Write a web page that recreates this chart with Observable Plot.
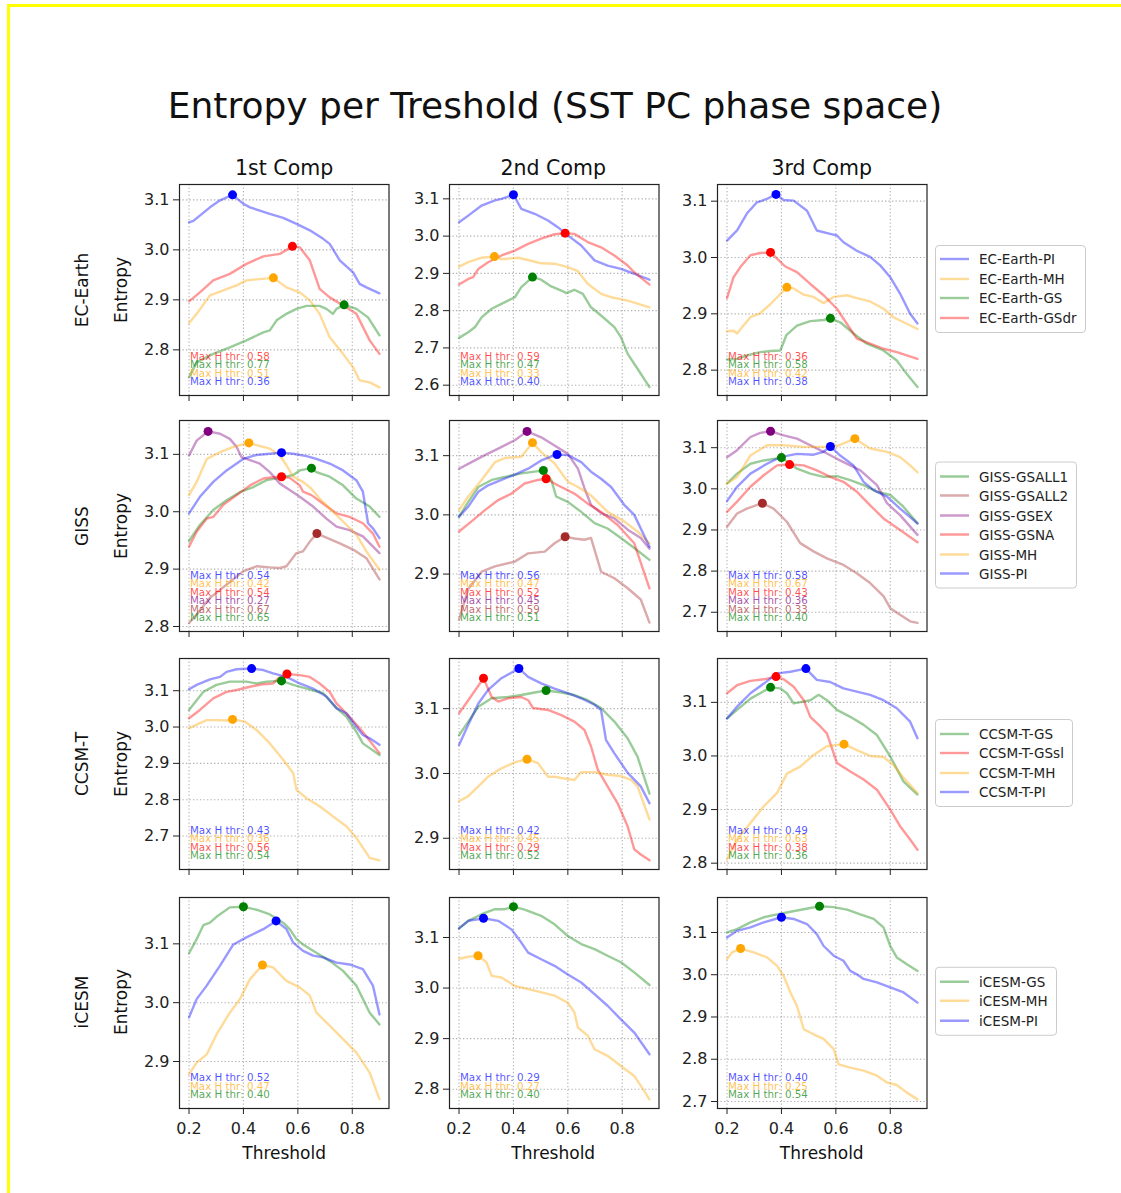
<!DOCTYPE html>
<html><head><meta charset="utf-8">
<script src="https://cdn.jsdelivr.net/npm/d3@7"></script>
<script src="https://cdn.jsdelivr.net/npm/@observablehq/plot@0.6"></script>
<style>
body{margin:0;background:#fff;}
#fig{position:relative;width:1121px;height:1193px;background:#fff;font-family:"DejaVu Sans",sans-serif;color:#111;overflow:hidden}
.abs{position:absolute;white-space:nowrap;line-height:1}
.legend{position:absolute;left:935px;transform:translateY(-50%);border:1px solid #cccccc;border-radius:4px;background:rgba(255,255,255,0.8);padding:4px 8px 4px 4px}
.legend .row{display:flex;align-items:center;height:19.5px;font-size:13.5px;color:#222}
.legend svg{margin-right:10px;display:block}
</style></head>
<body><div id="fig"></div>
<script>
// ---------- labels ----------
const TITLE = "Entropy per Treshold (SST PC phase space)";
const COLUMN_TITLES = ["1st Comp", "2nd Comp", "3rd Comp"];
const MODELS = ["EC-Earth", "GISS", "CCSM-T", "iCESM"];
const X_TICKS = [0.2, 0.4, 0.6, 0.8];
const X_DOMAIN = [0.165, 0.935];

const EC_NAMES = ["EC-Earth-PI", "EC-Earth-MH", "EC-Earth-GS", "EC-Earth-GSdr"];
const EC_COLORS = ["blue", "orange", "green", "red"];
const GISS_NAMES = ["GISS-GSALL1", "GISS-GSALL2", "GISS-GSEX", "GISS-GSNA", "GISS-MH", "GISS-PI"];
const GISS_COLORS = ["green", "brown", "purple", "red", "orange", "blue"];
const CCSM_NAMES = ["CCSM-T-GS", "CCSM-T-GSsl", "CCSM-T-MH", "CCSM-T-PI"];
const CCSM_COLORS = ["green", "red", "orange", "blue"];
const ICESM_NAMES = ["iCESM-GS", "iCESM-MH", "iCESM-PI"];
const ICESM_COLORS = ["green", "orange", "blue"];

// thresholds of maximum entropy (per component, per experiment in legend order)
const EC_THR = [[0.36, 0.51, 0.77, 0.58], [0.40, 0.33, 0.47, 0.59], [0.38, 0.42, 0.58, 0.36]];
const GISS_THR = [[0.65, 0.67, 0.27, 0.54, 0.42, 0.54], [0.51, 0.59, 0.45, 0.52, 0.47, 0.56], [0.40, 0.33, 0.36, 0.43, 0.67, 0.58]];
const CCSM_THR = [[0.54, 0.56, 0.36, 0.43], [0.52, 0.29, 0.45, 0.42], [0.36, 0.38, 0.63, 0.49]];
const ICESM_THR = [[0.40, 0.47, 0.52], [0.40, 0.27, 0.29], [0.54, 0.25, 0.40]];

// y-axis extents per row / component
const EC_YDOM = [[2.7087, 3.1307], [2.5723, 3.1385], [2.755, 3.1296]];
const GISS_YDOM = [[2.7913, 3.159], [2.803, 3.1594], [2.6532, 3.1661]];
const CCSM_YDOM = [[2.6078, 3.1887], [2.8518, 3.1774], [2.7882, 3.1818]];
const ICESM_YDOM = [[2.8201, 3.1788], [2.7618, 3.1791], [2.6834, 3.1828]];

// ---------- EC-Earth ----------
const EC1_PI = [[0.20,3.055],[0.216,3.058],[0.277,3.085],[0.314,3.099],[0.36,3.110],[0.40,3.092],[0.424,3.085],[0.497,3.072],[0.546,3.064],[0.595,3.052],[0.644,3.039],[0.693,3.022],[0.717,3.012],[0.754,2.979],[0.803,2.955],[0.827,2.932],[0.852,2.925],[0.90,2.913]];
const EC1_MH = [[0.20,2.853],[0.228,2.872],[0.277,2.909],[0.326,2.919],[0.375,2.929],[0.411,2.939],[0.448,2.941],[0.51,2.944],[0.558,2.925],[0.607,2.915],[0.644,2.899],[0.68,2.872],[0.717,2.825],[0.766,2.792],[0.803,2.765],[0.827,2.739],[0.864,2.735],[0.90,2.725]];
const EC1_GS = [[0.20,2.745],[0.228,2.775],[0.289,2.792],[0.35,2.805],[0.411,2.819],[0.473,2.835],[0.497,2.839],[0.522,2.859],[0.558,2.872],[0.595,2.882],[0.632,2.888],[0.68,2.888],[0.705,2.882],[0.729,2.872],[0.742,2.882],[0.77,2.890],[0.815,2.882],[0.858,2.865],[0.90,2.829]];
const EC1_GSdr = [[0.20,2.897],[0.24,2.915],[0.289,2.939],[0.35,2.952],[0.411,2.972],[0.473,2.987],[0.534,2.992],[0.58,3.007],[0.607,3.005],[0.644,2.979],[0.68,2.922],[0.717,2.905],[0.766,2.889],[0.815,2.872],[0.864,2.819],[0.90,2.792]];

const EC2_PI = [[0.20,3.037],[0.234,3.055],[0.283,3.082],[0.332,3.096],[0.356,3.100],[0.40,3.111],[0.429,3.073],[0.478,3.060],[0.527,3.042],[0.563,3.024],[0.60,3.002],[0.649,2.975],[0.698,2.935],[0.746,2.921],[0.795,2.912],[0.844,2.899],[0.90,2.883]];
const EC2_MH = [[0.20,2.918],[0.234,2.930],[0.283,2.942],[0.33,2.945],[0.356,2.938],[0.417,2.942],[0.454,2.936],[0.502,2.927],[0.551,2.926],[0.60,2.917],[0.637,2.906],[0.673,2.872],[0.722,2.845],[0.759,2.836],[0.82,2.827],[0.90,2.809]];
const EC2_GS = [[0.20,2.727],[0.234,2.742],[0.259,2.756],[0.283,2.782],[0.32,2.805],[0.356,2.818],[0.405,2.836],[0.429,2.863],[0.47,2.890],[0.502,2.883],[0.539,2.865],[0.576,2.854],[0.594,2.847],[0.624,2.856],[0.655,2.845],[0.685,2.809],[0.722,2.787],[0.771,2.756],[0.795,2.729],[0.82,2.684],[0.856,2.644],[0.90,2.595]];
const EC2_GSdr = [[0.20,2.870],[0.234,2.885],[0.252,2.890],[0.271,2.912],[0.307,2.930],[0.356,2.948],[0.405,2.961],[0.454,2.979],[0.502,2.993],[0.551,3.005],[0.59,3.008],[0.624,3.006],[0.673,2.984],[0.722,2.970],[0.771,2.948],[0.82,2.921],[0.844,2.903],[0.90,2.870]];

const EC3_PI = [[0.20,3.030],[0.237,3.048],[0.273,3.078],[0.31,3.098],[0.347,3.104],[0.38,3.112],[0.408,3.102],[0.445,3.101],[0.494,3.083],[0.53,3.048],[0.579,3.042],[0.604,3.039],[0.628,3.027],[0.677,3.012],[0.726,3.001],[0.763,2.986],[0.80,2.965],[0.836,2.936],[0.873,2.900],[0.90,2.883]];
const EC3_MH = [[0.20,2.869],[0.224,2.870],[0.237,2.865],[0.255,2.876],[0.286,2.894],[0.322,2.901],[0.359,2.917],[0.42,2.947],[0.445,2.945],[0.482,2.934],[0.518,2.930],[0.555,2.919],[0.592,2.930],[0.641,2.933],[0.677,2.928],[0.726,2.922],[0.775,2.909],[0.812,2.894],[0.849,2.885],[0.90,2.873]];
const EC3_GS = [[0.20,2.819],[0.237,2.820],[0.273,2.826],[0.322,2.832],[0.359,2.834],[0.396,2.835],[0.418,2.862],[0.457,2.879],[0.506,2.887],[0.555,2.889],[0.58,2.892],[0.616,2.885],[0.665,2.865],[0.714,2.847],[0.775,2.835],[0.824,2.817],[0.861,2.793],[0.90,2.770]];
const EC3_GSdr = [[0.20,2.928],[0.224,2.965],[0.249,2.983],[0.286,3.004],[0.322,3.008],[0.36,3.009],[0.384,2.998],[0.414,2.984],[0.457,2.974],[0.506,2.953],[0.555,2.933],[0.604,2.909],[0.641,2.882],[0.677,2.856],[0.726,2.847],[0.775,2.838],[0.824,2.832],[0.90,2.820]];

// ---------- GISS ----------
const GISS1_GSALL1 = [[0.20,2.949],[0.24,2.977],[0.289,3.003],[0.338,3.020],[0.387,3.034],[0.436,3.043],[0.485,3.055],[0.534,3.059],[0.583,3.064],[0.607,3.072],[0.65,3.076],[0.668,3.069],[0.717,3.061],[0.766,3.046],[0.815,3.023],[0.864,3.009],[0.90,2.991]];
const GISS1_GSALL2 = [[0.20,2.806],[0.228,2.821],[0.277,2.850],[0.338,2.873],[0.399,2.896],[0.448,2.905],[0.497,2.903],[0.534,2.902],[0.558,2.905],[0.595,2.928],[0.619,2.931],[0.644,2.948],[0.67,2.962],[0.705,2.955],[0.754,2.945],[0.803,2.934],[0.852,2.919],[0.90,2.882]];
const GISS1_GSEX = [[0.20,3.098],[0.228,3.124],[0.27,3.140],[0.314,3.136],[0.35,3.127],[0.375,3.113],[0.393,3.095],[0.424,3.090],[0.46,3.084],[0.497,3.069],[0.534,3.049],[0.57,3.038],[0.607,3.026],[0.656,3.009],[0.705,2.988],[0.742,2.974],[0.79,2.968],[0.839,2.957],[0.90,2.928]];
const GISS1_GSNA = [[0.20,2.939],[0.228,2.965],[0.265,2.988],[0.289,2.991],[0.326,3.012],[0.375,3.029],[0.424,3.046],[0.473,3.058],[0.509,3.060],[0.54,3.061],[0.57,3.059],[0.607,3.046],[0.619,3.035],[0.65,3.029],[0.693,3.014],[0.742,2.997],[0.79,2.991],[0.839,2.980],[0.876,2.962],[0.90,2.939]];
const GISS1_MH = [[0.20,3.029],[0.228,3.052],[0.265,3.092],[0.314,3.104],[0.363,3.113],[0.42,3.120],[0.448,3.116],[0.497,3.110],[0.534,3.098],[0.558,3.081],[0.583,3.061],[0.619,3.052],[0.65,3.040],[0.68,3.023],[0.717,3.006],[0.766,2.983],[0.815,2.960],[0.852,2.931],[0.90,2.899]];
const GISS1_PI = [[0.20,2.997],[0.24,3.026],[0.289,3.052],[0.338,3.072],[0.399,3.092],[0.448,3.099],[0.497,3.101],[0.54,3.103],[0.583,3.101],[0.632,3.097],[0.668,3.092],[0.717,3.084],[0.766,3.072],[0.815,3.055],[0.839,3.035],[0.858,2.980],[0.876,2.971],[0.90,2.954]];

const GISS2_GSALL1 = [[0.20,2.997],[0.234,3.022],[0.271,3.047],[0.32,3.059],[0.368,3.064],[0.429,3.070],[0.478,3.073],[0.51,3.075],[0.539,3.059],[0.557,3.031],[0.60,3.022],[0.649,3.005],[0.698,2.986],[0.746,2.977],[0.795,2.961],[0.844,2.944],[0.90,2.924]];
const GISS2_GSALL2 = [[0.20,2.823],[0.234,2.875],[0.283,2.904],[0.332,2.913],[0.405,2.921],[0.454,2.935],[0.515,2.938],[0.551,2.952],[0.59,2.963],[0.624,2.960],[0.661,2.958],[0.685,2.961],[0.722,2.904],[0.771,2.893],[0.82,2.876],[0.868,2.857],[0.90,2.818]];
const GISS2_GSEX = [[0.20,3.078],[0.246,3.089],[0.295,3.101],[0.344,3.112],[0.405,3.126],[0.45,3.141],[0.502,3.131],[0.551,3.117],[0.60,3.103],[0.637,3.078],[0.661,3.045],[0.685,3.017],[0.722,3.003],[0.771,2.994],[0.82,2.975],[0.868,2.961],[0.90,2.943]];
const GISS2_GSNA = [[0.20,2.972],[0.246,2.989],[0.295,3.008],[0.344,3.025],[0.393,3.036],[0.441,3.053],[0.49,3.059],[0.52,3.061],[0.563,3.050],[0.624,3.036],[0.673,3.019],[0.722,3.005],[0.783,2.983],[0.844,2.952],[0.90,2.876]];
const GISS2_MH = [[0.20,3.008],[0.234,3.031],[0.283,3.059],[0.332,3.089],[0.368,3.096],[0.429,3.098],[0.47,3.122],[0.502,3.106],[0.551,3.087],[0.60,3.056],[0.637,3.047],[0.685,3.033],[0.746,3.005],[0.807,2.989],[0.856,2.972],[0.90,2.952]];
const GISS2_PI = [[0.20,2.997],[0.234,3.014],[0.271,3.039],[0.307,3.050],[0.356,3.059],[0.405,3.068],[0.454,3.078],[0.502,3.092],[0.56,3.102],[0.60,3.101],[0.649,3.089],[0.685,3.073],[0.722,3.061],[0.759,3.047],[0.807,3.017],[0.844,3.000],[0.90,2.946]];

const GISS3_GSALL1 = [[0.20,3.013],[0.237,3.037],[0.286,3.061],[0.335,3.069],[0.40,3.076],[0.457,3.049],[0.506,3.037],[0.555,3.029],[0.604,3.031],[0.653,3.021],[0.702,3.009],[0.751,2.993],[0.80,2.985],[0.849,2.956],[0.90,2.916]];
const GISS3_GSALL2 = [[0.20,2.908],[0.237,2.940],[0.273,2.952],[0.33,2.965],[0.371,2.952],[0.42,2.920],[0.469,2.868],[0.518,2.848],[0.567,2.831],[0.628,2.815],[0.677,2.795],[0.726,2.771],[0.775,2.739],[0.80,2.710],[0.836,2.694],[0.873,2.678],[0.90,2.674]];
const GISS3_GSEX = [[0.20,3.077],[0.237,3.094],[0.286,3.126],[0.322,3.136],[0.36,3.140],[0.408,3.130],[0.457,3.122],[0.506,3.106],[0.555,3.090],[0.604,3.073],[0.653,3.057],[0.69,3.045],[0.751,3.009],[0.788,2.965],[0.836,2.936],[0.90,2.888]];
const GISS3_GSNA = [[0.20,2.944],[0.237,2.969],[0.286,3.005],[0.335,3.033],[0.384,3.057],[0.43,3.059],[0.482,3.057],[0.53,3.045],[0.579,3.029],[0.628,3.017],[0.677,2.993],[0.726,2.960],[0.775,2.928],[0.836,2.900],[0.90,2.870]];
const GISS3_MH = [[0.20,3.013],[0.237,3.029],[0.286,3.081],[0.347,3.106],[0.408,3.106],[0.482,3.102],[0.555,3.102],[0.604,3.104],[0.67,3.122],[0.726,3.098],[0.788,3.090],[0.836,3.077],[0.873,3.057],[0.90,3.040]];
const GISS3_PI = [[0.20,2.970],[0.237,3.005],[0.286,3.037],[0.347,3.061],[0.396,3.077],[0.457,3.085],[0.518,3.083],[0.555,3.090],[0.58,3.103],[0.616,3.081],[0.665,3.057],[0.702,3.017],[0.739,2.997],[0.788,2.981],[0.836,2.952],[0.90,2.916]];

// ---------- CCSM-T ----------
const CCSM1_GS = [[0.20,3.047],[0.228,3.074],[0.253,3.097],[0.301,3.116],[0.35,3.125],[0.411,3.125],[0.448,3.120],[0.485,3.125],[0.54,3.127],[0.583,3.116],[0.632,3.106],[0.693,3.093],[0.742,3.052],[0.778,3.029],[0.815,2.987],[0.839,2.955],[0.90,2.923]];
const CCSM1_GSsl = [[0.20,3.024],[0.24,3.047],[0.289,3.079],[0.338,3.097],[0.375,3.102],[0.424,3.111],[0.473,3.118],[0.509,3.120],[0.528,3.134],[0.56,3.146],[0.607,3.143],[0.644,3.138],[0.68,3.120],[0.717,3.097],[0.742,3.065],[0.778,3.038],[0.827,2.997],[0.852,2.974],[0.90,2.928]];
const CCSM1_MH = [[0.20,2.997],[0.265,3.019],[0.301,3.019],[0.338,3.018],[0.36,3.021],[0.405,3.015],[0.448,2.992],[0.497,2.955],[0.546,2.910],[0.583,2.873],[0.595,2.827],[0.632,2.804],[0.68,2.782],[0.729,2.754],[0.778,2.727],[0.815,2.695],[0.864,2.640],[0.90,2.633]];
const CCSM1_PI = [[0.20,3.104],[0.228,3.116],[0.277,3.131],[0.314,3.138],[0.338,3.152],[0.375,3.159],[0.43,3.161],[0.473,3.157],[0.509,3.148],[0.558,3.138],[0.607,3.120],[0.656,3.106],[0.705,3.084],[0.742,3.052],[0.778,3.038],[0.815,3.001],[0.839,2.978],[0.864,2.969],[0.90,2.951]];

const CCSM2_GS = [[0.20,3.059],[0.234,3.080],[0.271,3.103],[0.32,3.116],[0.38,3.118],[0.429,3.121],[0.478,3.125],[0.52,3.128],[0.576,3.125],[0.624,3.121],[0.673,3.113],[0.722,3.101],[0.771,3.080],[0.82,3.054],[0.856,3.026],[0.90,2.969]];
const CCSM2_GSsl = [[0.20,3.093],[0.234,3.113],[0.29,3.147],[0.32,3.118],[0.344,3.111],[0.38,3.116],[0.429,3.118],[0.454,3.113],[0.472,3.101],[0.527,3.098],[0.576,3.090],[0.624,3.080],[0.661,3.067],[0.685,3.042],[0.71,3.006],[0.746,2.980],[0.783,2.954],[0.82,2.918],[0.844,2.883],[0.868,2.875],[0.90,2.866]];
const CCSM2_MH = [[0.20,2.957],[0.234,2.965],[0.271,2.980],[0.307,2.995],[0.356,3.008],[0.405,3.017],[0.45,3.022],[0.49,3.016],[0.527,2.995],[0.551,2.995],[0.576,2.993],[0.624,2.990],[0.649,3.002],[0.698,3.002],[0.746,2.998],[0.795,2.996],[0.832,2.990],[0.856,2.980],[0.90,2.929]];
const CCSM2_PI = [[0.20,3.044],[0.234,3.075],[0.271,3.108],[0.307,3.129],[0.356,3.147],[0.42,3.162],[0.454,3.149],[0.502,3.139],[0.551,3.131],[0.60,3.124],[0.649,3.116],[0.698,3.106],[0.722,3.098],[0.74,3.052],[0.771,3.031],[0.82,3.001],[0.868,2.980],[0.90,2.954]];

const CCSM3_GS = [[0.20,3.070],[0.237,3.086],[0.286,3.107],[0.36,3.128],[0.396,3.126],[0.42,3.117],[0.445,3.098],[0.475,3.101],[0.506,3.104],[0.537,3.114],[0.567,3.104],[0.604,3.086],[0.653,3.073],[0.702,3.058],[0.751,3.039],[0.80,2.999],[0.849,2.952],[0.90,2.928]];
const CCSM3_GSsl = [[0.20,3.117],[0.237,3.132],[0.286,3.140],[0.335,3.143],[0.38,3.148],[0.408,3.143],[0.445,3.129],[0.482,3.104],[0.506,3.073],[0.543,3.055],[0.567,3.042],[0.604,2.987],[0.653,2.971],[0.702,2.956],[0.751,2.937],[0.80,2.900],[0.836,2.869],[0.873,2.844],[0.90,2.825]];
const CCSM3_MH = [[0.20,2.807],[0.237,2.844],[0.286,2.875],[0.335,2.906],[0.384,2.931],[0.42,2.967],[0.469,2.980],[0.518,3.002],[0.567,3.018],[0.63,3.022],[0.677,3.011],[0.726,3.000],[0.775,2.998],[0.812,2.983],[0.849,2.959],[0.90,2.931]];
const CCSM3_PI = [[0.20,3.070],[0.237,3.092],[0.286,3.117],[0.335,3.135],[0.384,3.154],[0.433,3.157],[0.49,3.163],[0.53,3.142],[0.579,3.138],[0.628,3.126],[0.677,3.120],[0.726,3.114],[0.775,3.104],[0.824,3.089],[0.873,3.064],[0.90,3.033]];

// ---------- iCESM ----------
const ICESM1_GS = [[0.20,3.084],[0.228,3.108],[0.253,3.132],[0.277,3.136],[0.301,3.146],[0.35,3.162],[0.40,3.163],[0.448,3.158],[0.497,3.150],[0.546,3.136],[0.57,3.125],[0.595,3.108],[0.619,3.099],[0.668,3.085],[0.717,3.071],[0.766,3.054],[0.815,3.029],[0.864,2.983],[0.90,2.963]];
const ICESM1_MH = [[0.20,2.878],[0.228,2.898],[0.265,2.912],[0.301,2.946],[0.35,2.983],[0.387,3.006],[0.424,3.040],[0.47,3.064],[0.509,3.060],[0.558,3.037],[0.607,3.026],[0.644,3.012],[0.668,2.983],[0.717,2.961],[0.766,2.938],[0.815,2.915],[0.864,2.881],[0.90,2.836]];
const ICESM1_PI = [[0.20,2.975],[0.228,3.006],[0.265,3.029],[0.314,3.063],[0.363,3.099],[0.411,3.111],[0.473,3.125],[0.52,3.139],[0.558,3.125],[0.583,3.102],[0.619,3.088],[0.656,3.080],[0.693,3.077],[0.742,3.068],[0.79,3.065],[0.839,3.057],[0.876,3.029],[0.90,2.980]];

const ICESM2_GS = [[0.20,3.118],[0.234,3.133],[0.283,3.146],[0.332,3.156],[0.368,3.156],[0.40,3.161],[0.441,3.155],[0.502,3.143],[0.551,3.126],[0.60,3.103],[0.649,3.087],[0.698,3.077],[0.746,3.064],[0.795,3.051],[0.844,3.031],[0.90,3.006]];
const ICESM2_MH = [[0.20,3.058],[0.234,3.062],[0.27,3.064],[0.301,3.051],[0.32,3.024],[0.356,3.021],[0.405,3.004],[0.478,2.995],[0.551,2.985],[0.60,2.971],[0.624,2.952],[0.637,2.922],[0.673,2.906],[0.698,2.879],[0.746,2.866],[0.795,2.846],[0.844,2.826],[0.868,2.807],[0.90,2.780]];
const ICESM2_PI = [[0.20,3.118],[0.234,3.133],[0.271,3.136],[0.29,3.138],[0.344,3.133],[0.393,3.116],[0.429,3.090],[0.454,3.070],[0.502,3.057],[0.551,3.044],[0.60,3.027],[0.649,3.011],[0.698,2.988],[0.746,2.965],[0.795,2.938],[0.844,2.912],[0.90,2.869]];

const ICESM3_GS = [[0.20,3.100],[0.237,3.108],[0.286,3.124],[0.335,3.136],[0.384,3.143],[0.433,3.149],[0.482,3.155],[0.54,3.162],[0.592,3.160],[0.641,3.154],[0.69,3.143],[0.739,3.132],[0.775,3.112],[0.80,3.068],[0.824,3.041],[0.861,3.025],[0.90,3.009]];
const ICESM3_MH = [[0.20,3.037],[0.218,3.053],[0.25,3.062],[0.298,3.053],[0.347,3.041],[0.384,3.021],[0.408,2.997],[0.433,2.958],[0.457,2.926],[0.482,2.871],[0.518,2.859],[0.555,2.848],[0.592,2.824],[0.61,2.788],[0.653,2.780],[0.702,2.773],[0.751,2.761],[0.788,2.745],[0.824,2.739],[0.861,2.721],[0.90,2.705]];
const ICESM3_PI = [[0.20,3.088],[0.237,3.104],[0.286,3.112],[0.335,3.124],[0.40,3.136],[0.445,3.132],[0.494,3.120],[0.53,3.096],[0.555,3.068],[0.592,3.045],[0.628,3.033],[0.653,3.009],[0.677,3.001],[0.702,2.990],[0.751,2.982],[0.80,2.970],[0.849,2.958],[0.90,2.934]];

// ---------- assemble ----------
const ROWS = [
  {names: EC_NAMES, colors: EC_COLORS, thr: EC_THR, ydom: EC_YDOM,
   series: [[EC1_PI, EC1_MH, EC1_GS, EC1_GSdr], [EC2_PI, EC2_MH, EC2_GS, EC2_GSdr], [EC3_PI, EC3_MH, EC3_GS, EC3_GSdr]]},
  {names: GISS_NAMES, colors: GISS_COLORS, thr: GISS_THR, ydom: GISS_YDOM,
   series: [[GISS1_GSALL1, GISS1_GSALL2, GISS1_GSEX, GISS1_GSNA, GISS1_MH, GISS1_PI],
            [GISS2_GSALL1, GISS2_GSALL2, GISS2_GSEX, GISS2_GSNA, GISS2_MH, GISS2_PI],
            [GISS3_GSALL1, GISS3_GSALL2, GISS3_GSEX, GISS3_GSNA, GISS3_MH, GISS3_PI]]},
  {names: CCSM_NAMES, colors: CCSM_COLORS, thr: CCSM_THR, ydom: CCSM_YDOM,
   series: [[CCSM1_GS, CCSM1_GSsl, CCSM1_MH, CCSM1_PI], [CCSM2_GS, CCSM2_GSsl, CCSM2_MH, CCSM2_PI], [CCSM3_GS, CCSM3_GSsl, CCSM3_MH, CCSM3_PI]]},
  {names: ICESM_NAMES, colors: ICESM_COLORS, thr: ICESM_THR, ydom: ICESM_YDOM,
   series: [[ICESM1_GS, ICESM1_MH, ICESM1_PI], [ICESM2_GS, ICESM2_MH, ICESM2_PI], [ICESM3_GS, ICESM3_MH, ICESM3_PI]]}
];

// layout
const FRAME_W = 209.5, FRAME_H = 211;
const COL_LEFT = [179.4, 448.5, 717];
const ROW_TOP = [184, 420.3, 658.3, 896.7];
const ML = 56, MR = 8, MT = 8;

const fig = document.getElementById("fig");
function addText(txt, css) {
  const d = document.createElement("div");
  d.className = "abs";
  d.textContent = txt;
  Object.assign(d.style, css);
  fig.appendChild(d);
  return d;
}

// yellow border
const border = document.createElement("div");
Object.assign(border.style, {position: "absolute", left: "7px", top: "4px", width: "1130px", height: "1200px",
  borderTop: "3px solid #ffff00", borderLeft: "3px solid #ffff00"});
fig.appendChild(border);

addText(TITLE, {left: "555px", top: "88px", transform: "translateX(-50%)", fontSize: "36px", color: "#111"});
COLUMN_TITLES.forEach((t, c) => addText(t, {left: (COL_LEFT[c] + FRAME_W / 2) + "px", top: "158px", transform: "translateX(-50%)", fontSize: "20.5px", color: "#111"}));

const fmt = d3.format(".1f");

ROWS.forEach((row, r) => {
  const last = r === ROWS.length - 1;
  const MB = last ? 32 : 10;
  const cy = ROW_TOP[r] + FRAME_H / 2;
  for (let c = 0; c < 3; c++) {
    const ydom = row.ydom[c];
    const yTicks = d3.range(Math.ceil(ydom[0] * 10 - 1e-9), Math.floor(ydom[1] * 10 + 1e-9) + 1).map(k => k / 10);
    const marks = [
      Plot.ruleX(X_TICKS, {stroke: "#b0b0b0", strokeWidth: 1.1, strokeDasharray: "1.3,2.2"}),
      Plot.ruleY(yTicks, {stroke: "#b0b0b0", strokeWidth: 1.1, strokeDasharray: "1.3,2.2"})
    ];
    row.series[c].forEach((data, i) => {
      marks.push(Plot.line(data, {x: d => d[0], y: d => d[1], stroke: row.colors[i], strokeWidth: 2.4, strokeOpacity: 0.4}));
    });
    row.series[c].forEach((data, i) => {
      const thr = row.thr[c][i];
      const pk = data.find(d => Math.abs(d[0] - thr) < 1e-9) || d3.greatest(data, d => d[1]);
      marks.push(Plot.dot([[thr, pk[1]]], {x: d => d[0], y: d => d[1], r: 4.5, fill: row.colors[i], stroke: "none"}));
    });
    row.series[c].forEach((data, i) => {
      const thr = row.thr[c][i];
      marks.push(Plot.text([`Max H thr: ${thr.toFixed(2)}`], {
        text: d => d, frameAnchor: "bottom-left",
        dx: 0.05 * FRAME_W, dy: -(0.05 + 0.04 * i) * FRAME_H,
        textAnchor: "start", lineAnchor: "bottom",
        fill: row.colors[i], fillOpacity: 0.7, fontSize: 10.3
      }));
    });
    marks.push(Plot.frame({stroke: "#222", strokeWidth: 1.2}));

    const svg = Plot.plot({
      width: ML + FRAME_W + MR, height: MT + FRAME_H + MB,
      marginLeft: ML, marginRight: MR, marginTop: MT, marginBottom: MB,
      style: {fontFamily: "DejaVu Sans", fontSize: "16px", color: "#222", background: "transparent", overflow: "visible"},
      x: {domain: X_DOMAIN, ticks: X_TICKS, tickFormat: last ? fmt : () => "", label: null, tickSize: 6, tickPadding: 8},
      y: {domain: ydom, ticks: yTicks, tickFormat: fmt, label: null, tickSize: 6, tickPadding: 4},
      marks
    });
    Object.assign(svg.style, {position: "absolute", left: (COL_LEFT[c] - ML) + "px", top: (ROW_TOP[r] - MT) + "px"});
    fig.appendChild(svg);

    if (last) {
      addText("Threshold", {left: (COL_LEFT[c] + FRAME_W / 2) + "px", top: "1145px", transform: "translateX(-50%)", fontSize: "17px", color: "#111"});
    }
  }
  // row labels
  addText(MODELS[r], {left: "82px", top: cy + "px", transform: "translate(-50%,-50%) rotate(-90deg)", fontSize: "17px", color: "#111"});
  addText("Entropy", {left: "121px", top: cy + "px", transform: "translate(-50%,-50%) rotate(-90deg)", fontSize: "17px", color: "#111"});

  // legend
  const lg = document.createElement("div");
  lg.className = "legend";
  lg.style.top = (cy - 1) + "px";
  row.names.forEach((n, i) => {
    const rr = document.createElement("div");
    rr.className = "row";
    const sw = d3.create("svg").attr("width", 29).attr("height", 8);
    sw.append("line").attr("x1", 0).attr("x2", 29).attr("y1", 4).attr("y2", 4)
      .attr("stroke", row.colors[i]).attr("stroke-width", 2.4).attr("stroke-opacity", 0.4);
    const tx = document.createElement("span");
    tx.textContent = n;
    rr.appendChild(sw.node()); rr.appendChild(tx);
    lg.appendChild(rr);
  });
  fig.appendChild(lg);
});
</script></body></html>
